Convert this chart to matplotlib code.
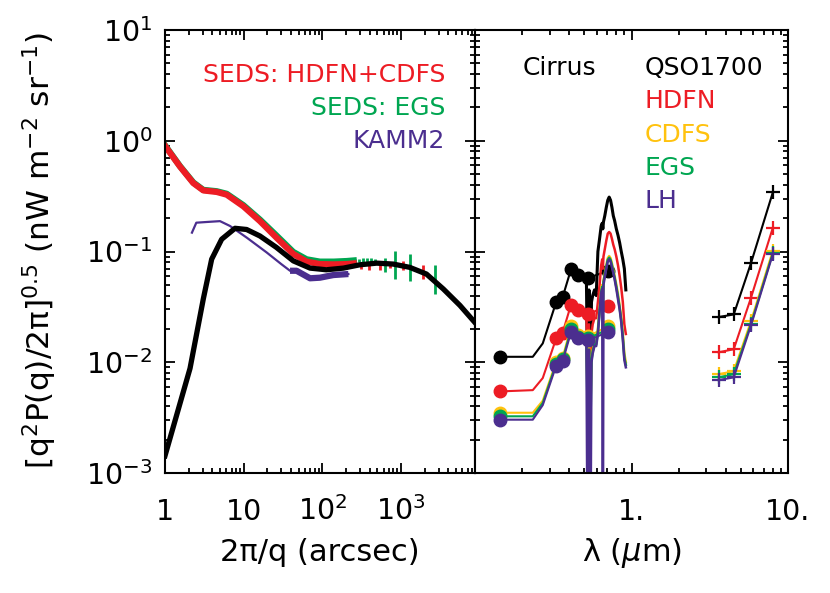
import matplotlib
matplotlib.use('Agg')
import matplotlib.pyplot as plt
from matplotlib.ticker import LogLocator, NullFormatter

plt.rcParams['font.family'] = ['DejaVu Sans']
plt.rcParams['mathtext.fontset'] = 'dejavusans'

RED = '#ED1C24'
GREEN = '#00A651'
YELLOW = '#FFC20E'
PURPLE = '#4B2E8F'

# ---- left panel: fluctuation power vs angular scale ----
cirrus_x = [1, 2.08, 3.07, 3.92, 5.25, 7.76, 10.9, 16.1, 26, 42.7, 69.7, 112, 185,
            300, 490, 795, 1290, 2100, 3440, 5600, 8700]
cirrus_y = [0.00143, 0.0088, 0.0374, 0.0853, 0.129, 0.162, 0.158, 0.138, 0.109,
            0.0823, 0.0708, 0.0684, 0.0708, 0.0759, 0.0785, 0.077, 0.0719, 0.0626,
            0.0459, 0.0326, 0.0228]

seds_x = [1, 1.55, 2.29, 3.07, 4.54, 6.08, 9.9, 16.1, 26.2, 42.7, 63, 93, 140, 204, 250]
hdfn_cdfs_y = [0.90, 0.585, 0.415, 0.356, 0.345, 0.326, 0.256, 0.188, 0.133, 0.095,
               0.081, 0.077, 0.0765, 0.077, 0.078]
egs_y = [0.91, 0.59, 0.42, 0.36, 0.35, 0.332, 0.262, 0.194, 0.139, 0.099, 0.085,
         0.081, 0.081, 0.082, 0.083]

hdfn_cdfs_px = [243, 311, 397, 532, 714, 1055, 1897]
hdfn_cdfs_py = [0.0757, 0.073, 0.0743, 0.0743, 0.0757, 0.0757, 0.066]
hdfn_cdfs_err = [0.003, 0.003, 0.006, 0.006, 0.005, 0.007, 0.010]

egs_px = [230, 260, 290, 330, 370, 420, 470, 617, 826, 1283, 2672]
egs_py = [0.083, 0.083, 0.083, 0.084, 0.084, 0.083, 0.082, 0.0757, 0.079, 0.0745, 0.058]
egs_err = [0.003, 0.003, 0.003, 0.003, 0.004, 0.004, 0.004, 0.011, 0.022, 0.02, 0.017]

kamm_x = [2.2, 2.5, 3.5, 5.0, 6.7, 11, 19.6, 30, 38.8, 47, 69.7, 93, 138, 214]
kamm_y = [0.148, 0.182, 0.185, 0.188, 0.17, 0.133, 0.098, 0.077, 0.067, 0.067,
          0.0573, 0.058, 0.0613, 0.0626]

# ---- right panel: spectra of the fields ----
lam_phot = [0.1435, 0.234, 0.271, 0.33, 0.363, 0.411, 0.453, 0.531, 0.708]
phot_marks = [0, 3, 4, 5, 6, 7, 8]
qso_phot = [0.0112, 0.0112, 0.0148, 0.0349, 0.0387, 0.0693, 0.0613, 0.0577, 0.067]
hdfn_phot = [0.00545, 0.0056, 0.0072, 0.0164, 0.0185, 0.0332, 0.0294, 0.0274, 0.0321]
cdfs_phot = [0.0035, 0.0035, 0.0045, 0.0101, 0.011, 0.0211, 0.0178, 0.0172, 0.0211]
egs_phot = [0.00325, 0.00325, 0.0043, 0.0097, 0.0106, 0.0198, 0.017, 0.0165, 0.0198]
lh_phot = [0.00303, 0.00303, 0.0041, 0.0093, 0.0102, 0.0188, 0.0164, 0.0158, 0.0188]

lam_spec = [0.515, 0.525, 0.535, 0.545, 0.555, 0.565, 0.58, 0.595, 0.61, 0.625, 0.64,
            0.65, 0.656, 0.662, 0.675, 0.69, 0.705, 0.72, 0.735, 0.75, 0.765, 0.78,
            0.80, 0.82, 0.84, 0.86, 0.88, 0.90, 0.92]
qso_spec = [0.056, 0.006, 0.045, 0.0056, 0.035, 0.04, 0.045, 0.04, 0.10, 0.13, 0.17,
            0.18, 0.16, 0.185, 0.21, 0.25, 0.29, 0.31, 0.29, 0.25, 0.21, 0.19, 0.16,
            0.14, 0.12, 0.10, 0.085, 0.07, 0.045]
hdfn_spec = [0.027, 0.007, 0.022, 0.007, 0.018, 0.022, 0.025, 0.025, 0.035, 0.05, 0.075,
             0.085, 0.07, 0.09, 0.105, 0.125, 0.145, 0.15, 0.145, 0.13, 0.115, 0.105,
             0.09, 0.075, 0.06, 0.047, 0.035, 0.022, 0.018]
cdfs_spec = [0.017, 0.004, 0.014, 0.003, 0.011, 0.013, 0.015, 0.015, 0.02, 0.03, 0.045,
             0.05, 0.035, 0.055, 0.063, 0.075, 0.087, 0.091, 0.087, 0.078, 0.068, 0.06,
             0.05, 0.041, 0.032, 0.025, 0.018, 0.012, 0.01]
egs_spec = [0.016, 0.003, 0.013, 0.002, 0.0105, 0.0125, 0.0145, 0.0145, 0.019, 0.029,
            0.043, 0.048, 0.03, 0.053, 0.061, 0.072, 0.084, 0.088, 0.084, 0.075, 0.066,
            0.058, 0.048, 0.039, 0.031, 0.024, 0.017, 0.011, 0.0095]
lh_spec = [0.016, 0.0001, 0.013, 0.0001, 0.01, 0.012, 0.014, 0.014, 0.018, 0.028, 0.042,
           0.046, 0.0001, 0.05, 0.059, 0.07, 0.081, 0.085, 0.081, 0.072, 0.064, 0.056,
           0.046, 0.037, 0.03, 0.023, 0.016, 0.0105, 0.009]

lam_irac = [3.6, 4.5, 5.8, 8.0]
qso_irac = [0.0256, 0.027, 0.0785, 0.342]
hdfn_irac = [0.0123, 0.0131, 0.0382, 0.164]
cdfs_irac = [0.0078, 0.0083, 0.0235, 0.102]
egs_irac = [0.0073, 0.0078, 0.0222, 0.097]
lh_irac = [0.0069, 0.0073, 0.0215, 0.0946]

fig = plt.figure(figsize=(8.3, 5.93), dpi=100)
ax1 = fig.add_axes([165 / 830, 1 - 473 / 593, 310 / 830, 443 / 593])
ax2 = fig.add_axes([475 / 830, 1 - 473 / 593, 313 / 830, 443 / 593])

# left panel
ax1.plot(kamm_x, kamm_y, color=PURPLE, lw=1.6)
ax1.plot(kamm_x[8:], kamm_y[8:], color=PURPLE, lw=4.5, solid_capstyle='butt')
ax1.plot(seds_x, egs_y, color=GREEN, lw=4.5)
ax1.errorbar(egs_px, egs_py, yerr=egs_err, fmt='none', ecolor=GREEN, elinewidth=2)
ax1.plot(seds_x, hdfn_cdfs_y, color=RED, lw=4.5)
ax1.errorbar(hdfn_cdfs_px, hdfn_cdfs_py, yerr=hdfn_cdfs_err, fmt='none', ecolor=RED,
             elinewidth=2)
ax1.plot(cirrus_x, cirrus_y, color='black', lw=3.8)

ax1.set_xscale('log')
ax1.set_yscale('log')
ax1.set_xlim(1, 8700)
ax1.set_ylim(1e-3, 10)
ax1.set_xticks([1, 10, 100, 1000], ['1', '10', r'$\mathregular{10^2}$', r'$\mathregular{10^3}$'])
ax1.set_yticks([1e-3, 1e-2, 1e-1, 1, 10],
               [r'$\mathregular{10^{-3}}$', r'$\mathregular{10^{-2}}$', r'$\mathregular{10^{-1}}$',
                r'$\mathregular{10^{0}}$', r'$\mathregular{10^{1}}$'])

ax1.text(0.903, 0.883, 'SEDS: HDFN+CDFS', color=RED, fontsize=18, ha='right',
         va='baseline', transform=ax1.transAxes)
ax1.text(0.903, 0.808, 'SEDS: EGS', color=GREEN, fontsize=18, ha='right',
         va='baseline', transform=ax1.transAxes)
ax1.text(0.903, 0.733, 'KAMM2', color=PURPLE, fontsize=18, ha='right',
         va='baseline', transform=ax1.transAxes)

# right panel
series = [(qso_phot, qso_spec, qso_irac, 'black'),
          (hdfn_phot, hdfn_spec, hdfn_irac, RED),
          (cdfs_phot, cdfs_spec, cdfs_irac, YELLOW),
          (egs_phot, egs_spec, egs_irac, GREEN),
          (lh_phot, lh_spec, lh_irac, PURPLE)]
for phot, spec, irac, col in series:
    ax2.plot(lam_phot, phot, color=col, lw=1.5, marker='o', ms=9, markevery=phot_marks)
    ax2.plot(lam_spec, spec, color=col, lw=2.2 if col == 'black' else 1.8)
    ax2.plot(lam_irac, irac, color=col, lw=1.5, marker='+', ms=10, mew=1.6)

ax2.set_xscale('log')
ax2.set_yscale('log')
ax2.set_xlim(0.1, 10)
ax2.set_ylim(1e-3, 10)
ax2.set_xticks([0.1, 1, 10], ['', '1.', '10.'])
ax2.yaxis.set_major_formatter(NullFormatter())

ax2.text(0.153, 0.898, 'Cirrus', color='black', fontsize=18, va='baseline',
         transform=ax2.transAxes)
ax2.text(0.543, 0.898, 'QSO1700', color='black', fontsize=18, va='baseline',
         transform=ax2.transAxes)
for lab, col, yy in [('HDFN', RED, 0.823), ('CDFS', YELLOW, 0.748),
                     ('EGS', GREEN, 0.673), ('LH', PURPLE, 0.598)]:
    ax2.text(0.543, yy, lab, color=col, fontsize=18, va='baseline',
             transform=ax2.transAxes)

for ax in (ax1, ax2):
    ax.xaxis.set_minor_locator(LogLocator(base=10, subs=range(2, 10), numticks=20))
    ax.yaxis.set_minor_locator(LogLocator(base=10, subs=range(2, 10), numticks=20))
    ax.xaxis.set_minor_formatter(NullFormatter())
    ax.yaxis.set_minor_formatter(NullFormatter())
    ax.tick_params(which='both', direction='in', top=True, right=True, width=1.3,
                   labelsize=20.5)
    ax.tick_params(which='major', length=7)
    ax.tick_params(which='minor', length=3.5)
    ax.tick_params(axis='x', pad=34)
    ax.tick_params(axis='y', pad=9)
    for t in ax.xaxis.get_major_ticks():
        t.label1.set_va('baseline')
    for s in ax.spines.values():
        s.set_linewidth(1.5)

fig.text(0.048, 0.577, r'[q$^2$P(q)/2π]$^{0.5}$ (nW m$^{-2}$ sr$^{-1}$)',
         rotation=90, ha='center', va='center', fontsize=22.5)
fig.text(320 / 830, 1 - 561 / 593, '2π/q (arcsec)', ha='center', va='baseline',
         fontsize=22)
fig.text(632 / 830, 1 - 561 / 593, r'λ ($\mu$m)', ha='center', va='baseline',
         fontsize=22)

fig.savefig('out.png', dpi=100)
